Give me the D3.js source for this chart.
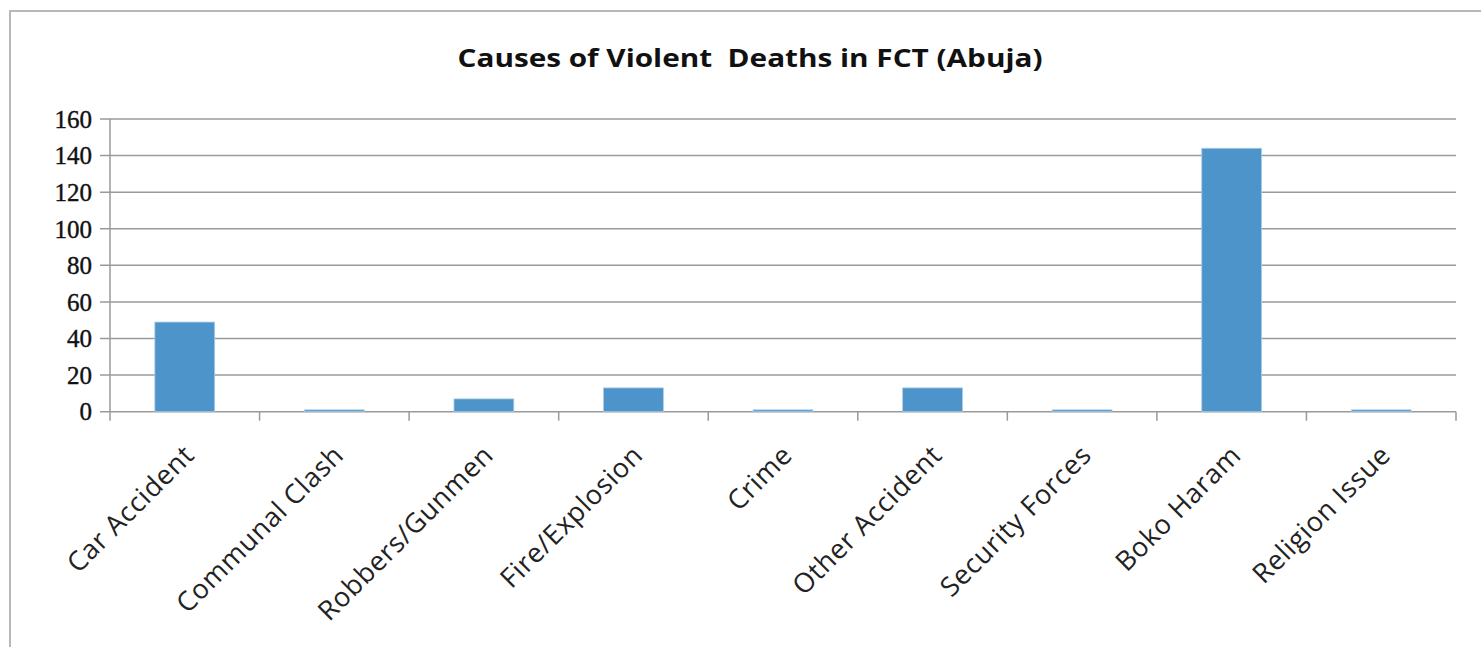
<!DOCTYPE html>
<html><head><meta charset="utf-8">
<script src="https://cdn.jsdelivr.net/npm/d3@7"></script>
<style>html,body{margin:0;padding:0;background:#fff;}</style>
</head><body>
<svg id="chart" width="1481" height="647"></svg>
<script>
const title = "Causes of Violent  Deaths in FCT (Abuja)";
const categories = ["Car Accident","Communal Clash","Robbers/Gunmen","Fire/Explosion","Crime","Other Accident","Security Forces","Boko Haram","Religion Issue"];
const values = [49, 1, 7, 13, 1, 13, 1, 144, 1];
const yTicks = [0,20,40,60,80,100,120,140,160];

const svg = d3.select("#chart");
const W = 1481, H = 647;
const plot = {left:110, right:1456, top:119, bottom:411.7};

svg.append("rect").attr("x",10).attr("y",11).attr("width",W).attr("height",H)
  .attr("fill","#fff").attr("stroke","#b8b8b8").attr("stroke-width",2);

svg.append("text").attr("x",750).attr("y",67).attr("text-anchor","middle")
  .attr("font-family","'Open Sans', sans-serif").attr("font-weight","bold")
  .attr("font-size",25).attr("fill","#111")
  .attr("textLength",585).attr("lengthAdjust","spacingAndGlyphs")
  .style("white-space","pre").text(title);

const x = d3.scaleBand().domain(categories).range([plot.left, plot.right]).paddingInner(0.6).paddingOuter(0.3);
const xb = d3.scaleBand().domain(categories).range([plot.left, plot.right]);
const y = d3.scaleLinear().domain([0,160]).range([plot.bottom, plot.top]);

// gridlines
svg.append("g").selectAll("line").data(yTicks).join("line")
  .attr("x1",plot.left-10).attr("x2",plot.right)
  .attr("y1",d=>y(d)).attr("y2",d=>y(d))
  .attr("stroke","#9a9a9a").attr("stroke-width",1.5);

// y axis line
svg.append("line").attr("x1",plot.left).attr("x2",plot.left)
  .attr("y1",plot.top).attr("y2",plot.bottom+9).attr("stroke","#9a9a9a").attr("stroke-width",1.5);

// y labels
svg.append("g").selectAll("text").data(yTicks).join("text")
  .attr("x",92).attr("y",d=>y(d)).attr("dy","0.35em").attr("text-anchor","end")
  .attr("font-family","'Liberation Serif', 'Times New Roman', serif").attr("font-size",25)
  .attr("fill","#111").attr("stroke","#111").attr("stroke-width",0.4).text(d=>d);

// x ticks at category boundaries
const bounds = categories.map(c=>xb(c)+xb.bandwidth());
svg.append("g").selectAll("line").data(bounds).join("line")
  .attr("x1",d=>d).attr("x2",d=>d).attr("y1",plot.bottom).attr("y2",plot.bottom+9)
  .attr("stroke","#9a9a9a").attr("stroke-width",1.5);

// bars
svg.append("g").selectAll("rect").data(values).join("rect")
  .attr("x",(d,i)=>x(categories[i])).attr("width",x.bandwidth())
  .attr("y",d=>y(d)).attr("height",d=>plot.bottom-y(d))
  .attr("fill","#4d94ca").attr("stroke","#a9cbe6").attr("stroke-width",0.8);

// x labels
svg.append("g").selectAll("text").data(categories).join("text")
  .attr("transform",d=>`translate(${xb(d)+xb.bandwidth()/2+11},${plot.bottom+45}) rotate(-45)`)
  .attr("text-anchor","end")
  .attr("font-family","'Open Sans', sans-serif").attr("font-size",27)
  .attr("letter-spacing","0.7px")
  .attr("fill","#222").text(d=>d);
</script>
</body></html>
